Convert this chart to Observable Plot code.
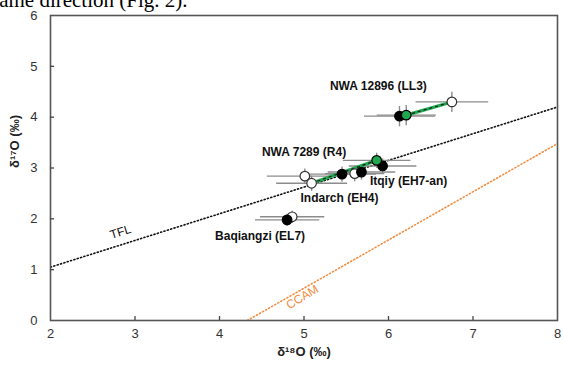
<!DOCTYPE html>
<html>
<head>
<meta charset="utf-8">
<script src="https://cdn.jsdelivr.net/npm/d3@7"></script>
<script src="https://cdn.jsdelivr.net/npm/@observablehq/plot@0.6"></script>
<style>
  html, body { margin: 0; padding: 0; background: #fff; }
  #wrap { position: relative; width: 563px; height: 365px; overflow: hidden; }
  #topline { position: absolute; left: -9px; top: -10px; font: 21px/21px "Liberation Serif", "Times New Roman", serif; color: #000; white-space: nowrap; }
  #chart { position: absolute; left: 0; top: 0; }
</style>
</head>
<body>
<div id="wrap">
  <div id="topline">same direction (Fig. 2).</div>
  <div id="chart"></div>
</div>
<script>
// ---- data ----
const xTicks = [2, 3, 4, 5, 6, 7, 8];
const yTicks = [0, 1, 2, 3, 4, 5, 6];

// measurements: d18O, d17O, errors, marker kind
const pointSample = ["NWA 12896", "NWA 12896", "NWA 12896", "NWA 7289", "NWA 7289", "Indarch", "Indarch", "Indarch", "Itqiy", "Itqiy", "Baqiangzi", "Baqiangzi"];
const pointKind   = ["open", "black", "green", "open", "black", "open", "open", "black", "green", "black", "black", "open"];
const pointD18O   = [6.75, 6.13, 6.21, 5.01, 5.45, 5.09, 5.60, 5.68, 5.86, 5.93, 4.80, 4.86];
const pointD17O   = [4.30, 4.02, 4.04, 2.84, 2.88, 2.70, 2.89, 2.92, 3.15, 3.04, 1.98, 2.04];
const pointErr18  = [0.43, 0.42, 0.35, 0.45, 0.40, 0.42, 0.35, 0.40, 0.40, 0.40, 0.38, 0.38];
const pointErr17  = [0.20, 0.20, 0.20, 0.15, 0.15, 0.15, 0.15, 0.15, 0.15, 0.15, 0.12, 0.12];

// trend segments (green dashed)
const segX1 = [6.21, 5.09];
const segY1 = [4.04, 2.70];
const segX2 = [6.75, 5.86];
const segY2 = [4.30, 3.15];

// reference lines
const tflX = [2, 8];
const tflY = [1.05, 4.20];
const ccamX = [4.33, 8];
const ccamY = [0, 3.48];

// labels
const labelText = ["NWA 12896 (LL3)", "NWA 7289 (R4)", "Itqiy (EH7-an)", "Indarch (EH4)", "Baqiangzi (EL7)"];
const labelX = [5.88, 5.00, 5.78, 5.42, 4.48];
const labelY = [4.61, 3.31, 2.74, 2.40, 1.65];
const labelAnchor = ["middle", "middle", "start", "middle", "middle"];

// ---- build tables ----
const points = pointSample.map((s, i) => ({
  sample: s, kind: pointKind[i], x: pointD18O[i], y: pointD17O[i], ex: pointErr18[i], ey: pointErr17[i]
}));
const segs = segX1.map((d, i) => ({x1: d, y1: segY1[i], x2: segX2[i], y2: segY2[i]}));
const tfl = tflX.map((d, i) => ({x: d, y: tflY[i]}));
const ccam = ccamX.map((d, i) => ({x: d, y: ccamY[i]}));
const labels = labelText.map((t, i) => ({t, x: labelX[i], y: labelY[i], a: labelAnchor[i]}));

const W = 563, H = 365, mL = 50, mR = 6, mT = 15, mB = 45;
const frameH = H - mT - mB, frameW = W - mL - mR;
const fill = {open: "#fff", black: "#000", green: "#1fa84f"};
const order = ["open", "black", "green"];

const chart = Plot.plot({
  width: W, height: H,
  marginLeft: mL, marginRight: mR, marginTop: mT, marginBottom: mB,
  x: {domain: [2, 8]},
  y: {domain: [0, 6]},
  style: {fontFamily: "'Liberation Sans', Arial, sans-serif", fontSize: "13px", background: "transparent", overflow: "visible"},
  marks: [
    // reference lines
    Plot.line(tfl, {x: "x", y: "y", stroke: "#111", strokeWidth: 1.6, strokeDasharray: "1.1,2.4", clip: true}),
    Plot.line(ccam, {x: "x", y: "y", stroke: "#f28c40", strokeWidth: 1.6, strokeDasharray: "1.1,2.4", clip: true}),
    Plot.text(["TFL"], {x: [2.83], y: [1.74], text: d => d, rotate: -17.5, fontSize: 12, fill: "#111"}),
    Plot.text(["CCAM"], {x: [4.98], y: [0.46], text: d => d, rotate: -31, fontSize: 12, fill: "#f28c40"}),
    // error bars
    Plot.link(points, {x1: d => d.x - d.ex, x2: d => d.x + d.ex, y1: "y", y2: "y", stroke: "#8c8c8c", strokeWidth: 1.4}),
    Plot.link(points, {x1: "x", x2: "x", y1: d => d.y - d.ey, y2: d => d.y + d.ey, stroke: "#8c8c8c", strokeWidth: 1.4}),
    // trend segments
    Plot.link(segs, {x1: "x1", y1: "y1", x2: "x2", y2: "y2", stroke: "#1fa84f", strokeWidth: 3.2}),
    Plot.link(segs, {x1: "x1", y1: "y1", x2: "x2", y2: "y2", stroke: "#1a1a1a", strokeWidth: 1.2, strokeDasharray: "3,3"}),
    // points
    Plot.dot(points, {x: "x", y: "y", r: 4.8, fill: d => fill[d.kind], stroke: d => d.kind === "open" ? "#333" : "#000", strokeWidth: 1.2, sort: d => order.indexOf(d.kind)}),
    // labels
    Plot.text(labels, {x: "x", y: "y", text: "t", textAnchor: "start", fontWeight: "bold", fontSize: 12, fill: "#111", filter: d => d.a === "start"}),
    Plot.text(labels, {x: "x", y: "y", text: "t", textAnchor: "middle", fontWeight: "bold", fontSize: 12, fill: "#111", filter: d => d.a === "middle"}),
    // frame
    Plot.frame({stroke: "#555", strokeWidth: 1.6}),
    // inward ticks
    Plot.tickX(xTicks.slice(1, -1), {x: d => d, insetTop: frameH - 4, stroke: "#444", strokeWidth: 1.3}),
    Plot.tickY(yTicks.slice(1, -1), {y: d => d, insetRight: frameW - 4, stroke: "#444", strokeWidth: 1.3}),
    // axes
    Plot.axisX(xTicks, {tickSize: 0, tickPadding: 8, tickFormat: d => String(d), fontSize: 13, fill: "#333", label: null}),
    Plot.axisY(yTicks, {tickSize: 0, tickPadding: 13, tickFormat: d => String(d), fontSize: 13, fill: "#333", label: null}),
    // axis titles
    Plot.text(["δ¹⁸O (‰)"], {frameAnchor: "bottom", dy: 35, text: d => d, fontWeight: "bold", fontSize: 13, fill: "#222"}),
    Plot.text(["δ¹⁷O (‰)"], {frameAnchor: "left", dx: -36, rotate: -90, text: d => d, fontWeight: "bold", fontSize: 13, fill: "#222"})
  ]
});
document.getElementById("chart").appendChild(chart);
</script>
</body>
</html>
